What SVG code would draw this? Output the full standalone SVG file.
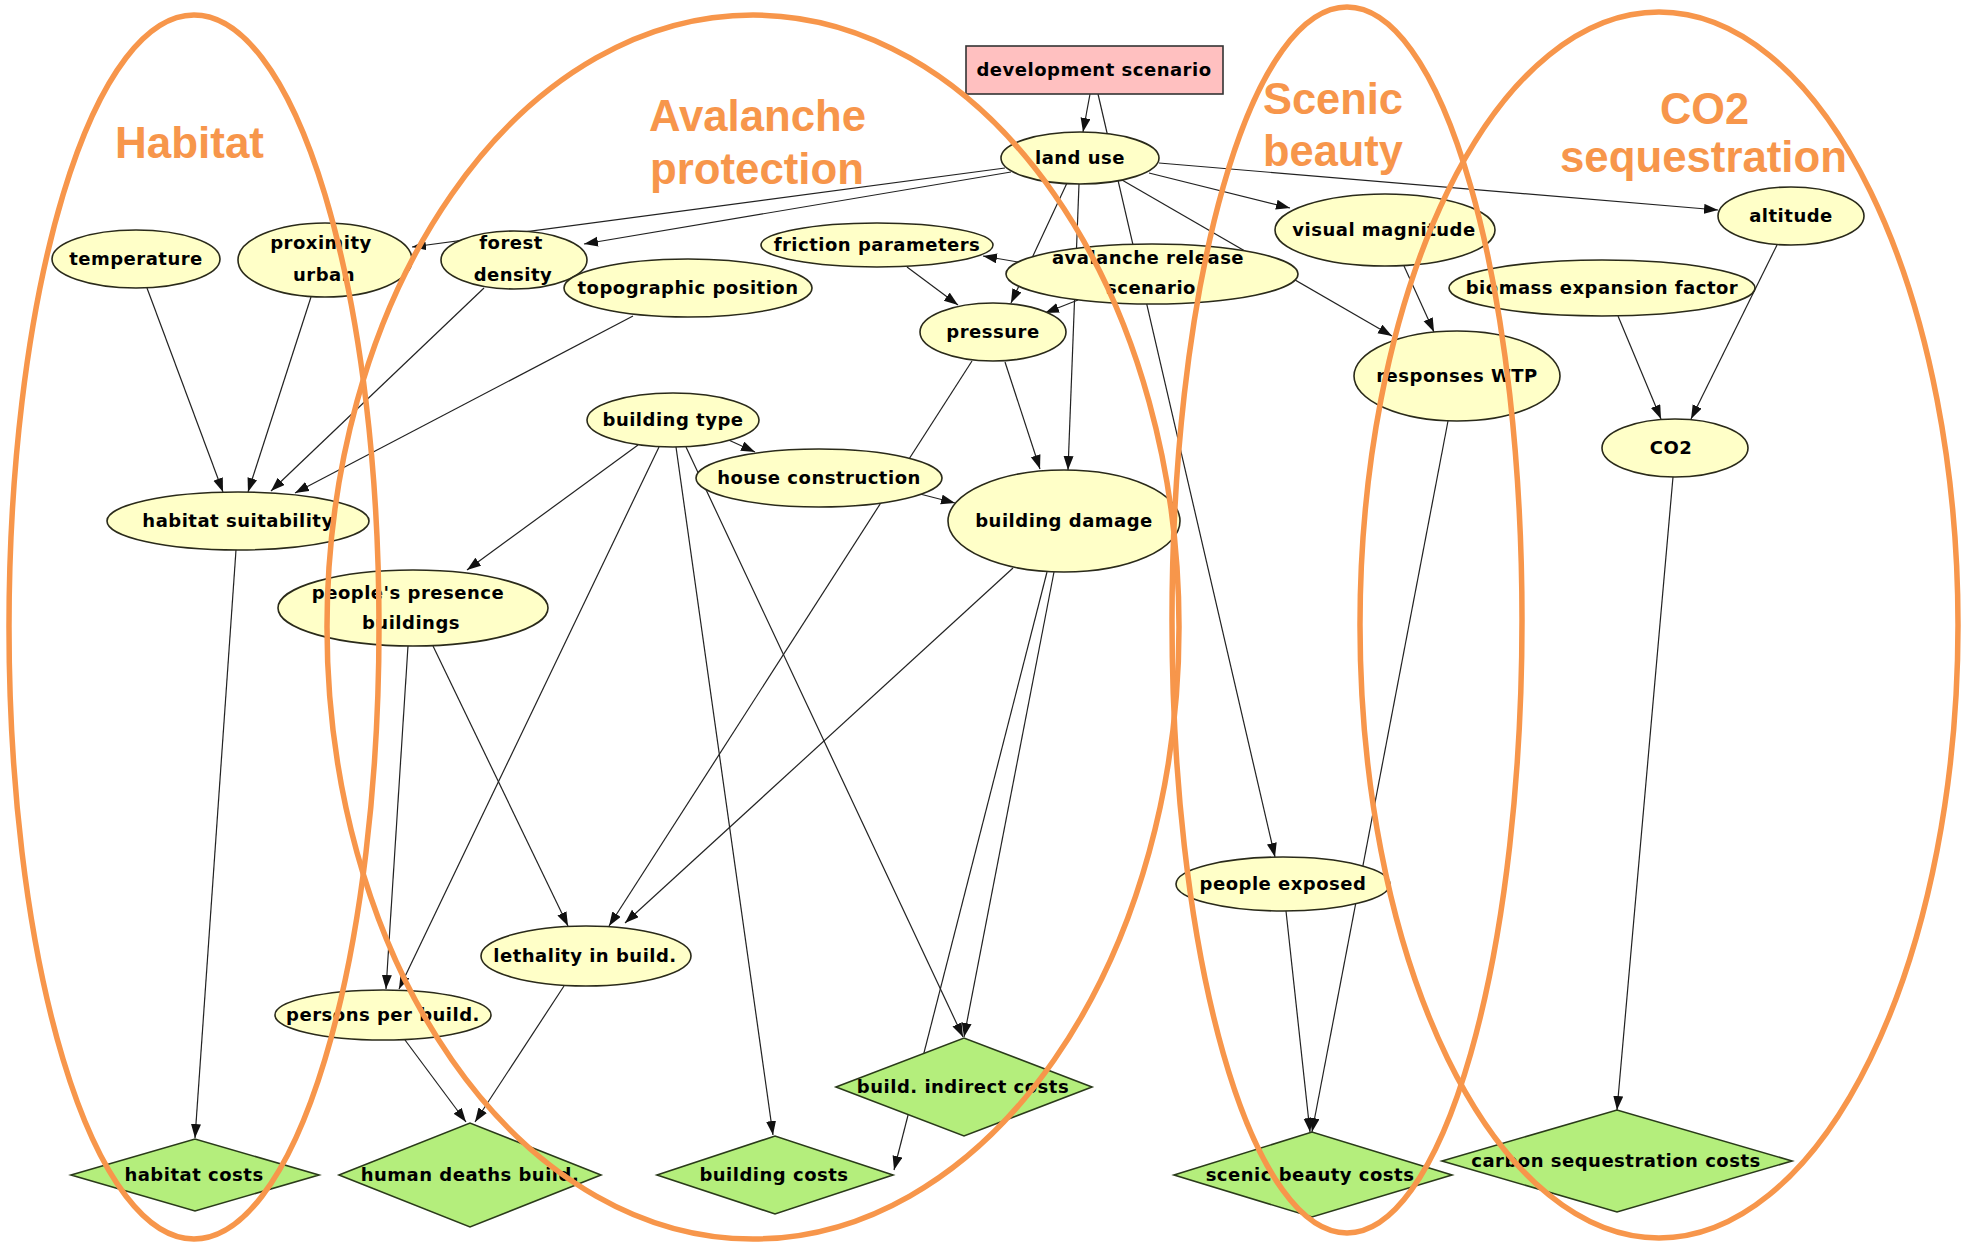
<svg xmlns="http://www.w3.org/2000/svg" width="1963" height="1243" viewBox="0 0 1963 1243">
<style>
.n ellipse{fill:#FFFFC8;stroke:#2a2a1a;stroke-width:1.6}
.n polygon{fill:#B4EE7C;stroke:#2a3a1a;stroke-width:1.6}
.n rect{fill:#FFC0C0;stroke:#333;stroke-width:1.6}
.n text{font-family:"DejaVu Sans",sans-serif;font-weight:bold;font-size:18px;letter-spacing:0.5px;fill:#000;text-anchor:middle}
#connectors line{stroke:#222;stroke-width:1.2;marker-end:url(#arr)}
.g{fill:none;stroke:#F7964B;stroke-width:5.5}
.gl{font-family:"Liberation Sans Narrow","Liberation Sans",Arial,sans-serif;font-weight:bold;font-size:45px;fill:#F7964B}
</style>
<defs>
<marker id="arr" markerUnits="userSpaceOnUse" markerWidth="15" markerHeight="11" refX="14" refY="5" orient="auto">
<path d="M0,0 L14,5 L0,10 z" fill="#111"/>
</marker>
</defs>
<rect width="1963" height="1243" fill="#fff"/>
<g id="connectors">
<line x1="1090" y1="94" x2="1083" y2="132"/>
<line x1="1098" y1="94" x2="1275" y2="857"/>
<line x1="1005" y1="168" x2="412" y2="247"/>
<line x1="1011" y1="172" x2="584" y2="244"/>
<line x1="1067" y1="183" x2="1011" y2="303"/>
<line x1="1079" y1="184" x2="1068" y2="470"/>
<line x1="1122" y1="180" x2="1392" y2="336"/>
<line x1="1149" y1="173" x2="1290" y2="208"/>
<line x1="1159" y1="163" x2="1718" y2="210"/>
<line x1="1018" y1="262" x2="983" y2="256"/>
<line x1="1078" y1="300" x2="1045" y2="313"/>
<line x1="907" y1="267" x2="958" y2="305"/>
<line x1="1005" y1="362" x2="1040" y2="469"/>
<line x1="972" y1="361" x2="609" y2="926"/>
<line x1="1013" y1="568" x2="625" y2="923"/>
<line x1="1054" y1="572" x2="964" y2="1037"/>
<line x1="1047" y1="572" x2="894" y2="1170"/>
<line x1="722" y1="437" x2="755" y2="452"/>
<line x1="920" y1="494" x2="955" y2="503"/>
<line x1="638" y1="445" x2="467" y2="570"/>
<line x1="659" y1="447" x2="399" y2="989"/>
<line x1="676" y1="447" x2="773" y2="1135"/>
<line x1="686" y1="447" x2="963" y2="1037"/>
<line x1="408" y1="646" x2="386" y2="989"/>
<line x1="433" y1="646" x2="568" y2="926"/>
<line x1="405" y1="1040" x2="466" y2="1122"/>
<line x1="564" y1="986" x2="475" y2="1122"/>
<line x1="236" y1="550" x2="195" y2="1138"/>
<line x1="147" y1="288" x2="223" y2="492"/>
<line x1="311" y1="297" x2="248" y2="492"/>
<line x1="484" y1="288" x2="271" y2="491"/>
<line x1="633" y1="316" x2="295" y2="493"/>
<line x1="1404" y1="266" x2="1434" y2="332"/>
<line x1="1448" y1="421" x2="1312" y2="1132"/>
<line x1="1286" y1="911" x2="1310" y2="1132"/>
<line x1="1618" y1="316" x2="1661" y2="419"/>
<line x1="1777" y1="245" x2="1691" y2="419"/>
<line x1="1673" y1="477" x2="1617" y2="1110"/>
</g>
<g id="development-scenario" class="n"><rect x="966" y="46" width="257" height="48"/><text x="1094" y="76">development scenario</text></g>
<g id="land-use" class="n"><ellipse cx="1080" cy="158" rx="79" ry="26"/><text x="1080" y="164">land use</text></g>
<g id="friction-parameters" class="n"><ellipse cx="877" cy="245" rx="116" ry="22"/><text x="877" y="251">friction parameters</text></g>
<g id="avalanche-release-scenario" class="n"><ellipse cx="1152" cy="274" rx="146" ry="30"/><text x="1148" y="264">avalanche release</text><text x="1151" y="294">scenario</text></g>
<g id="pressure" class="n"><ellipse cx="993" cy="332" rx="73" ry="29"/><text x="993" y="338">pressure</text></g>
<g id="forest-density" class="n"><ellipse cx="514" cy="260" rx="73" ry="29"/><text x="511" y="249">forest</text><text x="513" y="281">density</text></g>
<g id="topographic-position" class="n"><ellipse cx="688" cy="288" rx="124" ry="29"/><text x="688" y="294">topographic position</text></g>
<g id="building-type" class="n"><ellipse cx="673" cy="420" rx="86" ry="27"/><text x="673" y="426">building type</text></g>
<g id="proximity-urban" class="n"><ellipse cx="325" cy="260" rx="87" ry="37"/><text x="321" y="249">proximity</text><text x="324" y="281">urban</text></g>
<g id="temperature" class="n"><ellipse cx="136" cy="259" rx="84" ry="29"/><text x="136" y="265">temperature</text></g>
<g id="visual-magnitude" class="n"><ellipse cx="1385" cy="230" rx="110" ry="36"/><text x="1384" y="236">visual magnitude</text></g>
<g id="altitude" class="n"><ellipse cx="1791" cy="216" rx="73" ry="29"/><text x="1791" y="222">altitude</text></g>
<g id="biomass-expansion-factor" class="n"><ellipse cx="1602" cy="288" rx="153" ry="28"/><text x="1602" y="294">biomass expansion factor</text></g>
<g id="responses-wtp" class="n"><ellipse cx="1457" cy="376" rx="103" ry="45"/><text x="1457" y="382">responses WTP</text></g>
<g id="co2" class="n"><ellipse cx="1675" cy="448" rx="73" ry="29"/><text x="1671" y="454">CO2</text></g>
<g id="habitat-suitability" class="n"><ellipse cx="238" cy="521" rx="131" ry="29"/><text x="238" y="527">habitat suitability</text></g>
<g id="peoples-presence-buildings" class="n"><ellipse cx="413" cy="608" rx="135" ry="38"/><text x="408" y="599">people's presence</text><text x="411" y="629">buildings</text></g>
<g id="house-construction" class="n"><ellipse cx="819" cy="478" rx="123" ry="29"/><text x="819" y="484">house construction</text></g>
<g id="building-damage" class="n"><ellipse cx="1064" cy="521" rx="116" ry="51"/><text x="1064" y="527">building damage</text></g>
<g id="people-exposed" class="n"><ellipse cx="1283" cy="884" rx="107" ry="27"/><text x="1283" y="890">people exposed</text></g>
<g id="lethality-in-build" class="n"><ellipse cx="586" cy="956" rx="105" ry="30"/><text x="585" y="962">lethality in build.</text></g>
<g id="persons-per-build" class="n"><ellipse cx="383" cy="1015" rx="108" ry="25"/><text x="383" y="1021">persons per build.</text></g>
<g id="habitat-costs" class="n"><polygon points="71,1175 195,1139 319,1175 195,1211"/><text x="194" y="1181">habitat costs</text></g>
<g id="human-deaths-build" class="n"><polygon points="339,1175 470,1123 601,1175 470,1227"/><text x="470" y="1181">human deaths build.</text></g>
<g id="building-costs" class="n"><polygon points="657,1175 775,1136 893,1175 775,1214"/><text x="774" y="1181">building costs</text></g>
<g id="build-indirect-costs" class="n"><polygon points="836,1087 964,1038 1092,1087 964,1136"/><text x="963" y="1093">build. indirect costs</text></g>
<g id="scenic-beauty-costs" class="n"><polygon points="1174,1175 1312,1132 1452,1175 1312,1217"/><text x="1310" y="1181">scenic beauty costs</text></g>
<g id="carbon-sequestration-costs" class="n"><polygon points="1442,1161 1617,1110 1792,1161 1617,1212"/><text x="1616" y="1167">carbon sequestration costs</text></g>
<g id="groups">
<ellipse class="g" cx="194" cy="627" rx="185" ry="612"/>
<ellipse class="g" cx="753" cy="627" rx="426" ry="612"/>
<ellipse class="g" cx="1347" cy="620" rx="175" ry="613"/>
<ellipse class="g" cx="1659" cy="625" rx="299" ry="613"/>
<text class="gl" x="115" y="158" textLength="149" lengthAdjust="spacingAndGlyphs">Habitat</text>
<text class="gl" x="649" y="131" textLength="217" lengthAdjust="spacingAndGlyphs">Avalanche</text>
<text class="gl" x="650" y="184" textLength="214" lengthAdjust="spacingAndGlyphs">protection</text>
<text class="gl" x="1263" y="114" textLength="140" lengthAdjust="spacingAndGlyphs">Scenic</text>
<text class="gl" x="1263" y="166" textLength="140" lengthAdjust="spacingAndGlyphs">beauty</text>
<text class="gl" x="1660" y="124" textLength="89" lengthAdjust="spacingAndGlyphs">CO2</text>
<text class="gl" x="1560" y="172" textLength="287" lengthAdjust="spacingAndGlyphs">sequestration</text>
</g>
</svg>
